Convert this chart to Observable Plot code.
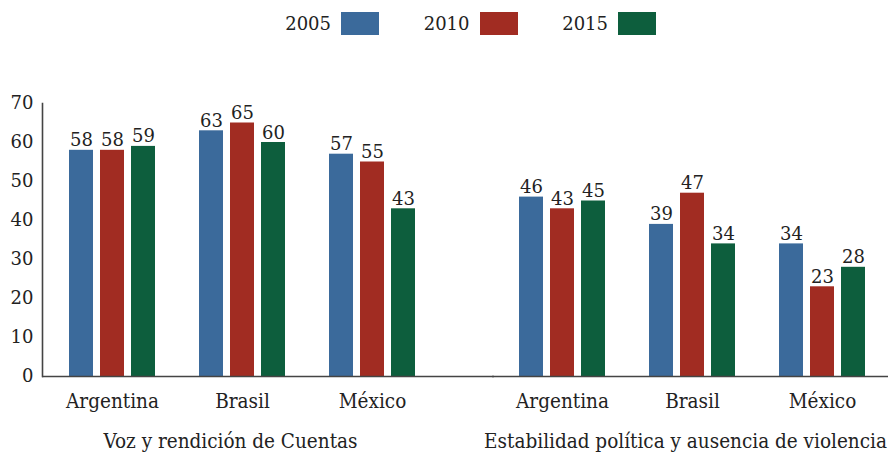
<!DOCTYPE html>
<html>
<head>
<meta charset="utf-8">
<script src="https://cdn.jsdelivr.net/npm/d3@7"></script>
<script src="https://cdn.jsdelivr.net/npm/@observablehq/plot@0.6"></script>
<style>
  html, body { margin: 0; padding: 0; background: #fff; overflow: hidden; }
  #legend { position: relative; width: 888px; height: 48px; font-family: "DejaVu Serif", serif; font-size: 18px; color: #222; }
  #legend .item { position: absolute; top: 0; height: 48px; }
  #legend .label { position: absolute; top: 14px; right: 48px; white-space: nowrap; line-height: 20px; }
  #legend .swatch { position: absolute; top: 12px; right: 0; width: 38px; height: 23px; }
  .cond text { font-stretch: condensed; }
</style>
</head>
<body>
<div id="legend"></div>
<div id="chart"></div>
<script>
// Governance indicators, percentile rank by country and year
const indicators = ["Voz y rendición de Cuentas", "Estabilidad política y ausencia de violencia"];
const countries = ["Argentina", "Brasil", "México"];
const years = ["2005", "2010", "2015"];
const colors = ["#3b6a9b", "#a12c22", "#0d5e3d"];
// values ordered: Voz (Argentina, Brasil, México), Estabilidad (Argentina, Brasil, México)
const values2005 = [58, 63, 57, 46, 39, 34];
const values2010 = [58, 65, 55, 43, 47, 23];
const values2015 = [59, 60, 43, 45, 34, 28];
const yTicks = [0, 10, 20, 30, 40, 50, 60, 70];

const series = [values2005, values2010, values2015];
const rows = [];
indicators.forEach((indicator, i) => {
  countries.forEach((country, j) => {
    years.forEach((year, k) => {
      rows.push({indicator, country, year, value: series[k][i * 3 + j]});
    });
  });
});

// Legend: year label followed by its colour swatch
const legend = document.getElementById("legend");
years.forEach((year, k) => {
  const item = document.createElement("div");
  item.className = "item";
  item.style.left = (289 + k * 138.5) + "px";
  item.style.width = "90px";
  item.innerHTML = `<span class="label">${year}</span><span class="swatch" style="background:${colors[k]}"></span>`;
  legend.appendChild(item);
});

const barWidth = 24;
const groupStep = 31;
const band = 130;

const marks = [];
years.forEach((year, k) => {
  const data = rows.filter(d => d.year === year);
  marks.push(Plot.barY(data, {
    fx: "indicator", x: "country", y: "value",
    fill: colors[k],
    insetLeft: (band - barWidth) / 2, insetRight: (band - barWidth) / 2,
    dx: (k - 1) * groupStep
  }));
  marks.push(Plot.text(data, {
    fx: "indicator", x: "country", y: "value",
    text: d => String(d.value),
    dx: (k - 1) * groupStep, dy: -4,
    lineAnchor: "bottom", fontSize: 18, fill: "#222"
  }));
});

const chart = Plot.plot({
  width: 888,
  height: 404,
  marginLeft: 42,
  marginRight: 0,
  marginTop: 55,
  marginBottom: 76,
  style: {fontFamily: "DejaVu Serif, serif", fontSize: "18px", color: "#222", background: "#fff"},
  fx: {domain: indicators, paddingInner: 0.12, paddingOuter: 0, round: false, axis: null},
  x: {domain: countries, padding: 0, round: false, insetLeft: 5, insetRight: 1, axis: null},
  y: {domain: [0, 70], axis: null},
  marks: [
    ...marks,
    Plot.ruleY([0], {stroke: "#444", strokeWidth: 1.6, insetRight: -56}),
    Plot.frame({anchor: "left", facetAnchor: "left", stroke: "#444", strokeWidth: 1.6}),
    Plot.axisY({ticks: yTicks, tickSize: 0, tickPadding: 9, fontSize: 18, label: null, facetAnchor: "left"}),
    Plot.axisX({tickSize: 0, tickPadding: 17, fontSize: 20.5, label: null, className: "cond"}),
    Plot.text([indicators[0]], {fx: d => d, text: d => d, frameAnchor: "bottom", dx: -10, dy: 65, lineAnchor: "middle", fontSize: 20.5, fill: "#222", className: "cond"}),
    Plot.text([indicators[1]], {fx: d => d, text: d => d, frameAnchor: "bottom", dx: -5, dy: 65, lineAnchor: "middle", fontSize: 20.5, fill: "#222", className: "cond"})
  ]
});
document.getElementById("chart").appendChild(chart);
</script>
</body>
</html>
